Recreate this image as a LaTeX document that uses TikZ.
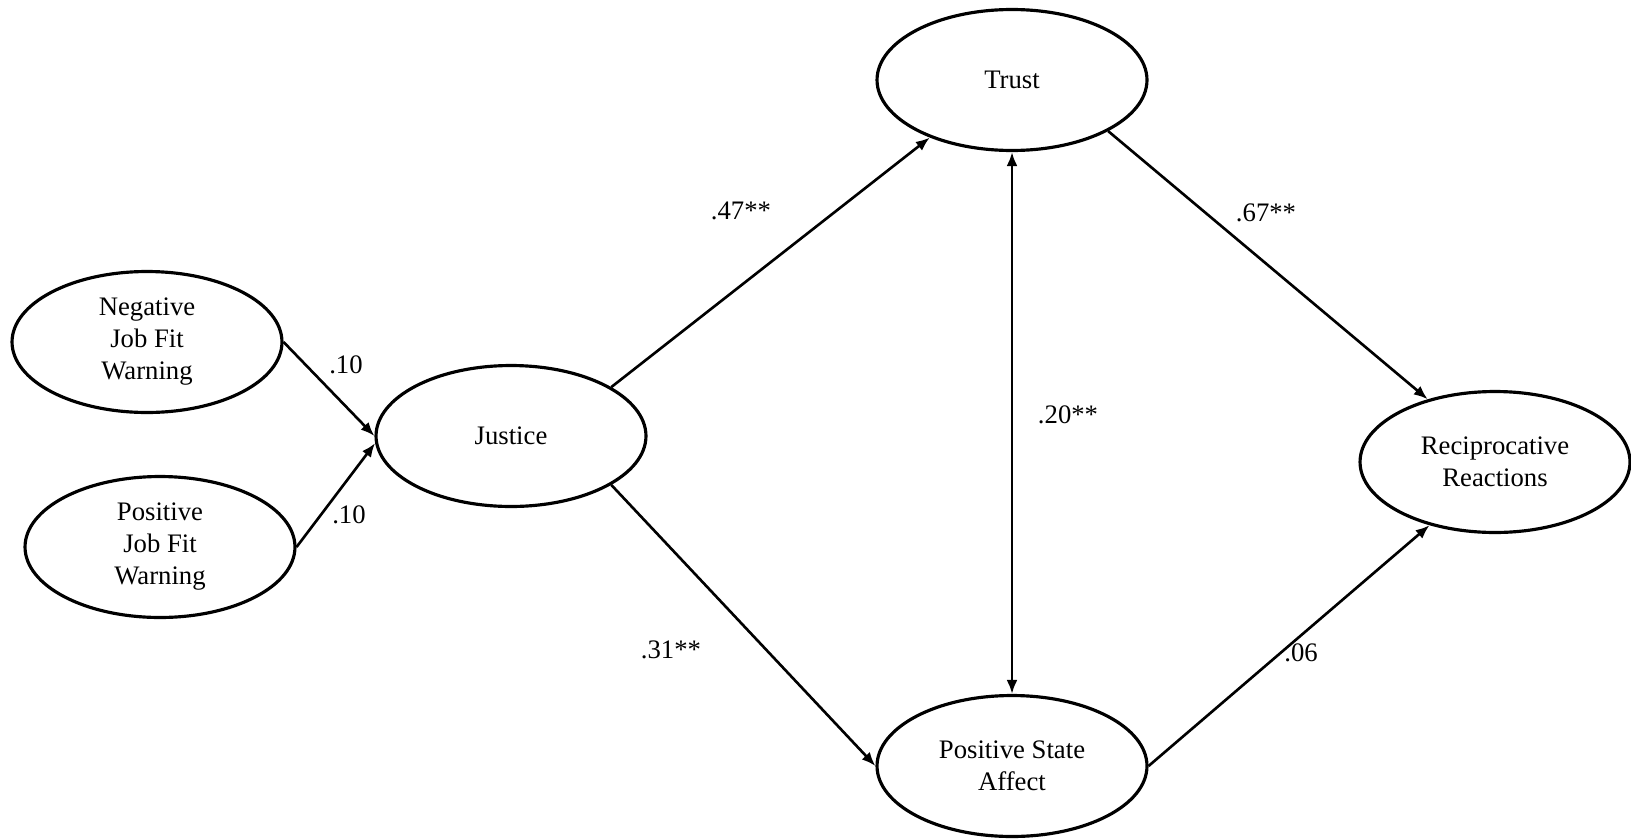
\documentclass[tikz,border=0pt]{standalone}
\usepackage{fontspec}
\setmainfont{Liberation Serif}
\usetikzlibrary{shapes.geometric,arrows.meta}

\begin{document}
\begin{tikzpicture}[x=0.02cm,y=-0.02cm,
  latent/.style={ellipse,draw,line width=1.8pt,fill=white,inner sep=0pt,
                 minimum width=5.4cm,minimum height=2.82cm,align=center,
                 font=\fontsize{15.2}{18.2}\selectfont},
  effect/.style={-{Latex[length=2.8mm,width=2.2mm]},line width=1.5pt},
  coef/.style={font=\fontsize{15.2}{18.2}\selectfont}]
  \useasboundingbox (0,0) rectangle (1631,838);
  % Latent variables of the structural model.
  \node[latent] (neg) at (147,342) {Negative\\Job Fit\\Warning};
  \node[latent] (pos) at (160,547) {Positive\\Job Fit\\Warning};
  \node[latent] (justice) at (511,436) {Justice};
  \node[latent] (trust) at (1012,80) {Trust};
  \node[latent] (psa) at (1012,766) {Positive State\\Affect};
  \node[latent] (recip) at (1495,462) {Reciprocative\\Reactions};

  % Structural paths.
  \draw[effect] (neg.east) -- (justice.west);
  \draw[effect] (pos.east) -- (justice.183);
  \draw[effect] (justice.26) -- (trust.215);
  \draw[effect] (justice.-26) -- (psa.west);
  \draw[effect] (trust.-28) -- (recip.137);
  \draw[effect] (psa.east) -- (recip.224);
  \draw[effect,{Latex[length=2.8mm,width=2.2mm]}-{Latex[length=2.8mm,width=2.2mm]}]
    (trust.south) -- (psa.north);

  % Path coefficients.
  \node[coef] (cneg) at (346,365) {.10};
  \node[coef] (cpos) at (349,515) {.10};
  \node[coef] (cjt) at (741,211) {.47**};
  \node[coef] (cjp) at (671,650) {.31**};
  \node[coef] (ctp) at (1068,415) {.20**};
  \node[coef] (ctr) at (1266,213) {.67**};
  \node[coef] (cpr) at (1301,653) {.06};
\end{tikzpicture}
\end{document}
